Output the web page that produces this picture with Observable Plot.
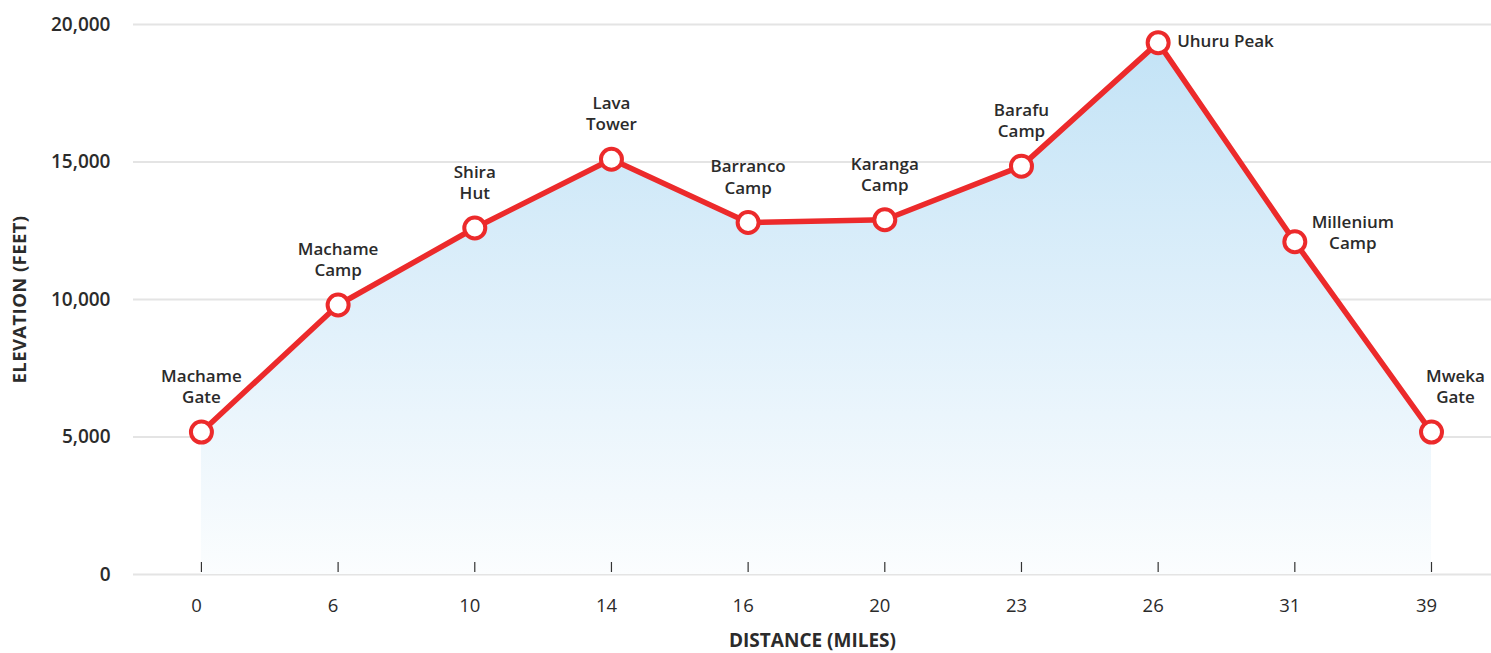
<!DOCTYPE html>
<html>
<head>
<meta charset="utf-8">
<script src="https://cdn.jsdelivr.net/npm/d3@7"></script>
<script src="https://cdn.jsdelivr.net/npm/@observablehq/plot@0.6"></script>
<style>
  html, body { margin: 0; padding: 0; background: #fff; }
  #chart svg { display: block; }
  g[aria-label="x-axis label"] text { font-weight: 700; font-size: 19px; }
  g[aria-label="y-axis label"] text { font-weight: 700; font-size: 18.5px; letter-spacing: 0.4px; }
</style>
</head>
<body>
<div id="chart"></div>
<script>
// Distance tick labels (miles), in route order
const distances = ["0", "6", "10", "14", "16", "20", "23", "26", "31", "39"];
// Elevation at each stop (feet)
const elevations = [5180, 9800, 12600, 15100, 12800, 12900, 14850, 19340, 12100, 5180];
// Stop names
const names = ["Machame\nGate", "Machame\nCamp", "Shira\nHut", "Lava\nTower", "Barranco\nCamp",
               "Karanga\nCamp", "Barafu\nCamp", "Uhuru Peak", "Millenium\nCamp", "Mweka\nGate"];
// Elevation tick values
const elevationTicks = [0, 5000, 10000, 15000, 20000];

const data = distances.map((d, i) => ({distance: d, elevation: elevations[i], name: names[i]}));

const red = "#ec2a2b";
const textColor = "#2b2b2b";

const defs = () => {
  const g = d3.create("svg:defs");
  const grad = g.append("linearGradient")
    .attr("id", "elevGrad").attr("x1", 0).attr("y1", 0).attr("x2", 0).attr("y2", 1);
  grad.append("stop").attr("offset", "0%").attr("stop-color", "#c3e3f6");
  grad.append("stop").attr("offset", "55%").attr("stop-color", "#e2f1fb");
  grad.append("stop").attr("offset", "100%").attr("stop-color", "#fbfdfe");
  return g.node();
};

const above = data.filter(d => !["Uhuru Peak", "Millenium\nCamp", "Mweka\nGate"].includes(d.name));
const labelStyle = {fontSize: 17, fontWeight: 600, fill: textColor, lineHeight: 1.25};

const chart = Plot.plot({
  width: 1491,
  height: 653,
  marginTop: 24,
  marginBottom: 79,
  marginLeft: 133,
  marginRight: 0,
  style: {fontFamily: "'Open Sans', 'Noto Sans', sans-serif", color: textColor, background: "#fff"},
  x: {type: "point", domain: distances, padding: 0.468, align: 0.531, round: false},
  y: {domain: [0, 20000]},
  marks: [
    defs,
    Plot.gridY(elevationTicks, {stroke: "#e4e4e4", strokeOpacity: 1, strokeWidth: 2}),
    Plot.areaY(data, {x: "distance", y: "elevation", fill: "url(#elevGrad)"}),
    Plot.axisY(elevationTicks, {
      tickSize: 0, tickPadding: 23, tickFormat: d3.format(","),
      fontSize: 19, fontWeight: 600, fill: textColor,
      label: "ELEVATION (FEET)", labelAnchor: "center", labelOffset: 121, labelArrow: "none"
    }),
    Plot.axisX({
      tickSize: 0, tickPadding: 24, dx: -5, fontSize: 18.5, fontWeight: 500, fill: textColor,
      label: "DISTANCE (MILES)", labelAnchor: "center", labelOffset: 72, labelArrow: "none"
    }),
    Plot.axisX({tickSize: -10, dy: -2, tickFormat: () => "", label: null, stroke: "#333", strokeWidth: 1.2}),
    Plot.lineY(data, {x: "distance", y: "elevation", stroke: red, strokeWidth: 5.5, strokeLinejoin: "round"}),
    Plot.dot(data, {x: "distance", y: "elevation", r: 10.5, fill: "white", stroke: red, strokeWidth: 4}),
    Plot.text(above, {x: "distance", y: "elevation", text: "name", lineAnchor: "bottom", dy: -29, ...labelStyle}),
    Plot.text(data.filter(d => d.name === "Mweka\nGate"), {x: "distance", y: "elevation", text: "name",
      lineAnchor: "bottom", dy: -29, dx: 24, ...labelStyle}),
    Plot.text(data.filter(d => d.name === "Millenium\nCamp"), {x: "distance", y: "elevation", text: "name",
      lineAnchor: "middle", dy: -10, dx: 58, ...labelStyle}),
    Plot.text(data.filter(d => d.name === "Uhuru Peak"), {x: "distance", y: "elevation", text: "name",
      lineAnchor: "middle", textAnchor: "start", dx: 19, dy: -2, ...labelStyle})
  ]
});

document.getElementById("chart").appendChild(chart);
</script>
</body>
</html>
